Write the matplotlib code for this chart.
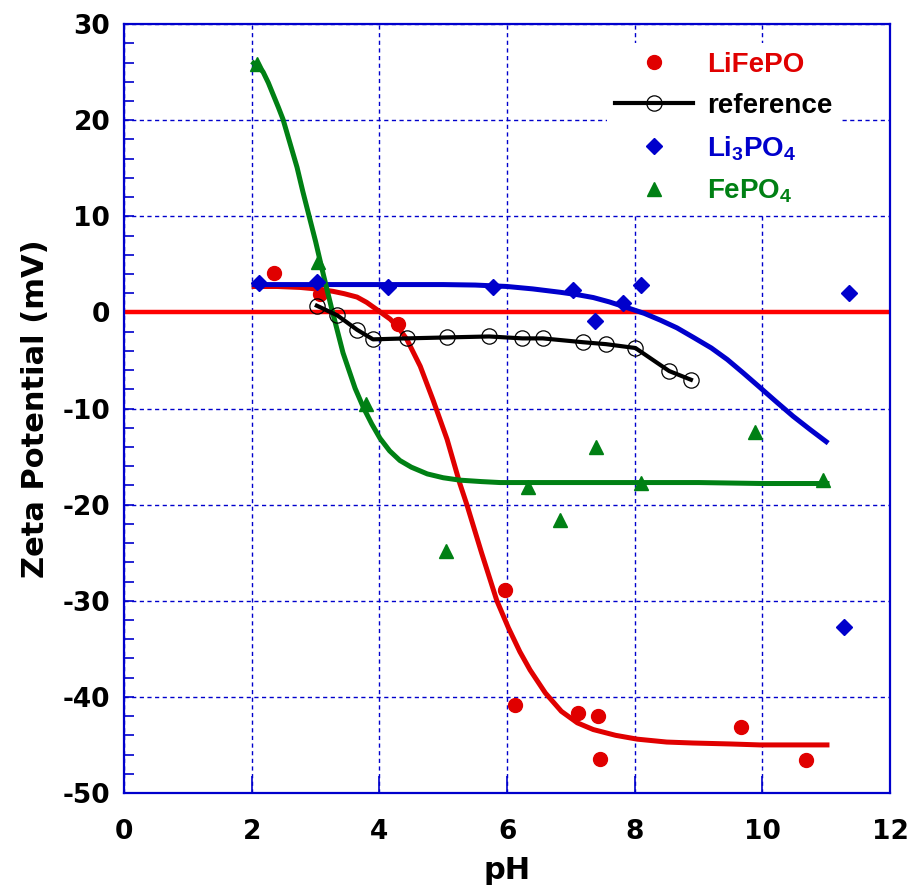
import matplotlib
matplotlib.use("Agg")
import matplotlib.pyplot as plt
from matplotlib.ticker import MultipleLocator

# measured points
lfp_ph = [2.35, 3.07, 4.29, 5.97, 6.13, 7.11, 7.43, 7.46, 9.67, 10.68]
lfp_zeta = [4.1, 1.9, -1.2, -28.9, -40.8, -41.7, -42.0, -46.5, -43.1, -46.6]

lpo_ph = [2.12, 3.02, 4.14, 5.78, 7.03, 7.38, 7.82, 8.10, 11.36, 11.28]
lpo_zeta = [3.1, 3.2, 2.6, 2.6, 2.3, -0.9, 1.0, 2.9, 2.0, -32.7]

fpo_ph = [2.08, 3.04, 3.79, 5.04, 6.33, 6.83, 7.39, 8.10, 9.89, 10.95]
fpo_zeta = [25.8, 5.2, -9.5, -24.8, -18.2, -21.6, -14.0, -17.7, -12.4, -17.4]

ref_ph = [3.02, 3.34, 3.65, 3.90, 4.43, 5.06, 5.72, 6.24, 6.56, 7.19, 7.55, 8.01, 8.54, 8.88]
ref_zeta = [0.7, -0.3, -1.8, -2.8, -2.7, -2.6, -2.5, -2.7, -2.7, -3.1, -3.3, -3.7, -6.1, -7.0]

# fitted curves
lfp_fit_ph = [2.0, 2.4, 2.76, 3.0, 3.27, 3.45, 3.65, 3.8, 3.96, 4.17, 4.30, 4.43, 4.64, 4.84, 5.06,
              5.26, 5.37, 5.6, 5.84, 6.02, 6.2, 6.36, 6.6, 6.85, 7.1, 7.35, 7.7, 8.04, 8.5, 8.91,
              9.5, 9.96, 10.5, 11.05]
lfp_fit_zeta = [2.7, 2.7, 2.6, 2.45, 2.2, 1.95, 1.6, 1.05, 0.3, -0.7, -1.6, -2.8, -5.6, -9.1, -13.2,
                -17.8, -20.0, -25.0, -30.0, -32.8, -35.3, -37.2, -39.6, -41.5, -42.7, -43.4, -44.0,
                -44.4, -44.7, -44.8, -44.9, -45.0, -45.0, -45.0]

lpo_fit_ph = [2.0, 3.0, 4.0, 5.0, 5.5, 6.0, 6.4, 6.83, 7.1, 7.35, 7.6, 7.88, 8.15, 8.4, 8.66,
              8.92, 9.2, 9.45, 9.7, 9.96, 10.2, 10.48, 10.75, 11.03]
lpo_fit_zeta = [2.9, 2.9, 2.9, 2.9, 2.85, 2.7, 2.45, 2.1, 1.85, 1.55, 1.1, 0.5, -0.1, -0.8, -1.6,
                -2.6, -3.7, -4.9, -6.3, -7.8, -9.2, -10.8, -12.2, -13.6]

fpo_fit_ph = [2.0, 2.1, 2.18, 2.26, 2.34, 2.42, 2.49, 2.6, 2.71, 2.8, 2.9, 3.0, 3.12, 3.26, 3.43,
              3.62, 3.75, 3.88, 4.01, 4.16, 4.32, 4.5, 4.75, 5.0, 5.26, 5.6, 5.89, 7.0, 8.0, 9.0,
              10.0, 11.05]
fpo_fit_zeta = [26.1, 25.6, 25.0, 23.9, 22.6, 21.3, 20.1, 17.6, 15.1, 12.6, 10.0, 7.4, 4.0, 0.2, -4.2,
                -7.9, -9.9, -11.6, -13.1, -14.4, -15.4, -16.1, -16.8, -17.2, -17.45, -17.6, -17.7,
                -17.7, -17.7, -17.7, -17.8, -17.8]

red = '#e00000'
blue = '#0000cc'
green = '#008014'

plt.rcParams['mathtext.fontset'] = 'custom'
plt.rcParams['mathtext.rm'] = 'Liberation Sans:bold'
plt.rcParams['mathtext.default'] = 'rm'
plt.rcParams['axes.unicode_minus'] = False

fig = plt.figure(figsize=(9.12, 8.93), dpi=100)
ax = fig.add_axes([0.136, 0.112, 0.840, 0.861])

ax.set_xlim(0, 12)
ax.set_ylim(-50, 30)

# grid
ax.xaxis.set_major_locator(MultipleLocator(2))
ax.yaxis.set_major_locator(MultipleLocator(10))
ax.yaxis.set_minor_locator(MultipleLocator(2))
ax.grid(True, which='major', color=blue, linestyle=(0, (3, 2.5)), linewidth=1.0, zorder=0)
ax.set_axisbelow(True)

ax.axhline(0, xmin=0, xmax=0.996, color='#ff0000', lw=3.2, zorder=2)

# fits
ax.plot(lfp_fit_ph, lfp_fit_zeta, color=red, lw=3.6, zorder=3, solid_capstyle='butt', solid_joinstyle='round')
ax.plot(lpo_fit_ph, lpo_fit_zeta, color=blue, lw=3.6, zorder=3, solid_capstyle='butt', solid_joinstyle='round')
ax.plot(fpo_fit_ph, fpo_fit_zeta, color=green, lw=3.6, zorder=4, solid_capstyle='butt', solid_joinstyle='round')

# data
ax.plot(lfp_ph, lfp_zeta, 'o', color=red, ms=10, ls='none', label='LiFePO', zorder=3)
ax.plot(ref_ph, ref_zeta, color='black', lw=3, marker='o', ms=11, mfc='none', mec='black',
        mew=0.9, label='reference', zorder=5)
ax.plot(lpo_ph, lpo_zeta, 'D', color=blue, ms=8, ls='none', label='Li$_3$PO$_4$', zorder=5)
ax.plot(fpo_ph, fpo_zeta, '^', color=green, ms=10, ls='none', label='FePO$_4$', zorder=5)

for s in ax.spines.values():
    s.set_color(blue)
    s.set_linewidth(1.6)

ax.tick_params(axis='both', which='both', direction='in', colors=blue, width=1.2)
ax.tick_params(axis='x', which='major', length=12, pad=19)
ax.tick_params(axis='y', which='major', length=7, pad=10)
ax.tick_params(axis='y', which='minor', length=7)

for lab in ax.get_xticklabels() + ax.get_yticklabels():
    lab.set_fontfamily('DejaVu Sans')
    lab.set_fontweight('bold')
    lab.set_fontsize(19)
    lab.set_color('black')

ax.set_xlabel('pH', fontfamily='DejaVu Sans', fontweight='bold', fontsize=22, labelpad=8)
ax.set_ylabel('Zeta Potential (mV)', fontfamily='DejaVu Sans', fontweight='bold', fontsize=22, labelpad=9)

leg = ax.legend(loc='upper left', bbox_to_anchor=(0.63, 0.975), borderaxespad=0, borderpad=0.3,
                prop={'family': 'Liberation Sans', 'weight': 'bold', 'size': 20},
                labelcolor='linecolor', frameon=True, fancybox=False, framealpha=1,
                edgecolor='none', handlelength=2.8, handletextpad=0.5, labelspacing=0.55)
leg.set_zorder(6)

fig.savefig('out.png', dpi=100)
